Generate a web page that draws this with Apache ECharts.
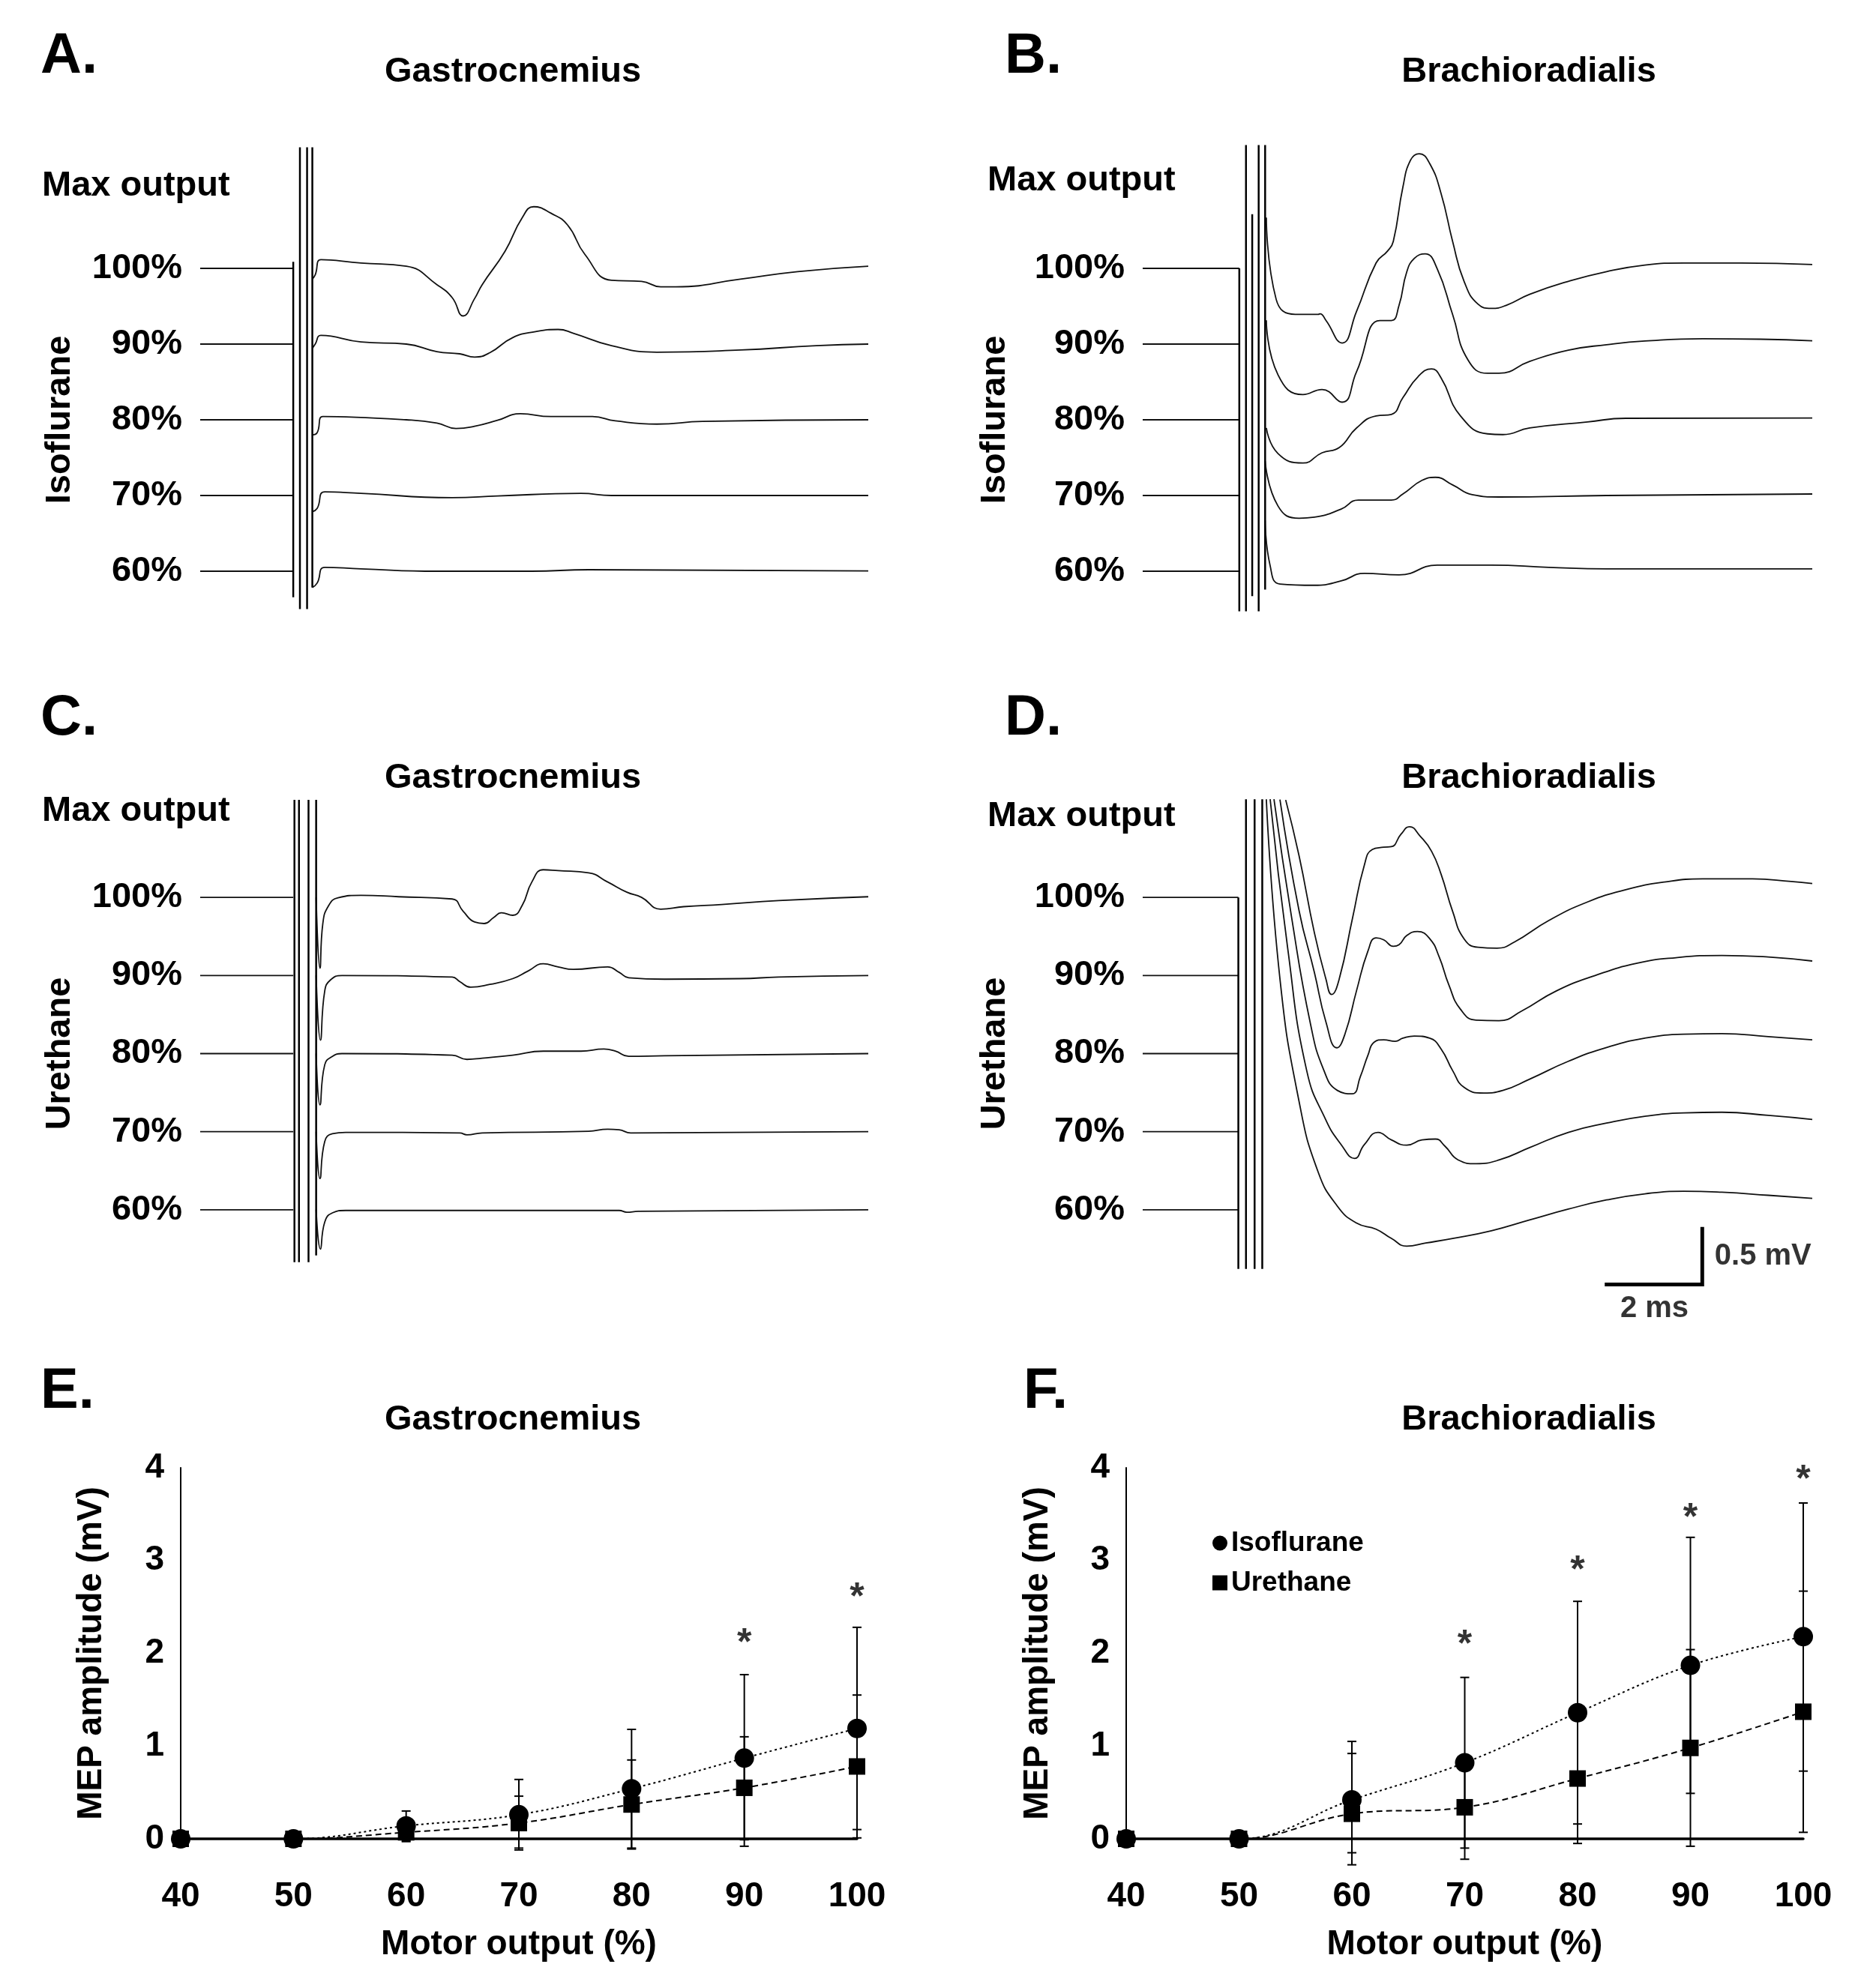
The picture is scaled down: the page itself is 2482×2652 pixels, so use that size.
<!DOCTYPE html>
<html>
<head>
<meta charset="utf-8">
<script src="https://cdn.jsdelivr.net/npm/echarts@6/dist/echarts.min.js"></script>
<style>html,body{margin:0;padding:0;background:#fff}#chart{width:2482px;height:2652px}</style>
</head>
<body>
<div id="chart"></div>
<script>
// ---------- Trace panels (time in ms, amplitude in mV relative to each trace baseline) ----------
const levelLabels = ['60%', '70%', '80%', '90%', '100%'];
const traceSpacing = 0.7; // mV between stacked baselines

// Panel A: Isoflurane, Gastrocnemius
const traceA60 = [[2.35,-0.15],[2.45,-0.11],[2.61,0.036],[3.37,0.022],[4.96,0.0],[6.95,0.0],[8.14,0.014],[14.0,0.003]];
const traceA70 = [[2.35,-0.15],[2.45,-0.12],[2.61,0.034],[3.37,0.02],[5.28,-0.02],[6.23,-0.005],[7.98,0.02],[8.62,0.0],[14.0,0.0]];
const traceA80 = [[2.35,-0.14],[2.45,-0.12],[2.57,0.03],[4.32,0.0],[4.96,-0.03],[5.36,-0.08],[5.75,-0.06],[6.23,-0.005],[6.71,0.056],[7.35,0.03],[8.22,0.03],[8.70,-0.01],[9.57,-0.04],[10.53,-0.015],[14.0,0.0]];
const traceA90 = [[2.35,-0.04],[2.41,0.0],[2.53,0.08],[3.37,0.02],[4.32,0.0],[4.96,-0.07],[5.44,-0.09],[5.75,-0.12],[6.07,-0.08],[6.55,0.06],[7.03,0.115],[7.50,0.135],[7.82,0.10],[8.62,-0.015],[9.57,-0.075],[11.32,-0.055],[12.91,-0.015],[14.0,0.0]];
const traceA100 = [[2.35,-0.10],[2.41,-0.06],[2.53,0.08],[3.37,0.05],[4.32,0.02],[4.96,-0.15],[5.28,-0.27],[5.51,-0.44],[5.75,-0.28],[5.91,-0.15],[6.39,0.16],[6.75,0.47],[6.99,0.57],[7.35,0.51],[7.70,0.40],[8.06,0.13],[8.62,-0.11],[9.25,-0.12],[9.65,-0.17],[9.97,-0.17],[11.32,-0.10],[12.52,-0.03],[14.0,0.02]];
const artifactA = [[1.95,2.86,-0.24],[2.09,3.92,-0.35],[2.24,3.92,-0.35],[2.35,3.92,-0.15]]; // [t, top, bottom] absolute mV

// Panel B: Isoflurane, Brachioradialis
const traceB60 = [[2.56,0.47],[2.665,0.05],[2.87,-0.118],[3.59,-0.13],[4.15,-0.09],[4.635,-0.02],[5.36,-0.034],[6.16,0.056],[7.29,0.056],[8.49,0.036],[9.70,0.022],[14.0,0.022]];
const traceB70 = [[2.56,0.32],[2.83,-0.098],[3.27,-0.21],[3.59,-0.20],[4.15,-0.126],[4.51,-0.042],[5.20,-0.042],[5.44,0.014],[5.84,0.14],[6.12,0.168],[6.48,0.098],[6.89,0.008],[7.45,-0.014],[9.70,0.0],[14.0,0.014]];
const traceB80 = [[2.585,-0.076],[2.83,-0.313],[3.35,-0.40],[3.75,-0.305],[4.11,-0.257],[4.47,-0.076],[4.88,0.036],[5.20,0.05],[5.44,0.204],[5.76,0.40],[6.04,0.47],[6.24,0.386],[6.645,0.036],[7.21,-0.13],[7.53,-0.137],[8.09,-0.076],[9.30,-0.02],[10.10,0.014],[14.0,0.017]];
const traceB90 = [[2.585,0.22],[2.83,-0.285],[3.35,-0.467],[3.75,-0.42],[4.17,-0.537],[4.47,-0.257],[4.96,0.218],[5.20,0.218],[5.36,0.358],[5.52,0.666],[5.68,0.792],[5.905,0.834],[6.16,0.694],[6.48,0.274],[6.80,-0.146],[7.21,-0.27],[7.45,-0.27],[8.09,-0.16],[8.90,-0.056],[9.70,-0.006],[10.50,0.028],[11.71,0.05],[12.92,0.045],[14.0,0.03]];
const traceB100 = [[2.585,0.47],[2.79,-0.285],[3.19,-0.425],[3.67,-0.425],[3.71,-0.42],[3.83,-0.48],[4.17,-0.69],[4.47,-0.40],[4.88,0.05],[5.12,0.16],[5.24,0.25],[5.44,0.75],[5.60,1.0],[5.78,1.06],[6.00,0.97],[6.24,0.69],[6.48,0.25],[6.72,-0.12],[7.01,-0.33],[7.29,-0.37],[7.61,-0.34],[8.09,-0.24],[8.90,-0.12],[9.70,-0.03],[10.50,0.03],[11.31,0.05],[12.51,0.05],[14.0,0.036]];
const artifactB = [[2.02,2.80,-0.37],[2.16,3.94,-0.37],[2.29,3.30,-0.23],[2.425,3.94,-0.37],[2.56,3.94,-0.17]];

// Panel C: Urethane, Gastrocnemius
const traceC60 = [[2.43,0.0],[2.52,-0.353],[2.61,-0.11],[2.77,-0.028],[3.05,-0.006],[8.78,-0.006],[8.94,-0.022],[9.18,-0.014],[14.0,0.0]];
const traceC70 = [[2.43,0.0],[2.51,-0.42],[2.61,-0.088],[2.77,-0.019],[3.05,-0.006],[5.44,-0.011],[5.59,-0.028],[5.91,-0.011],[8.14,0.003],[8.54,0.022],[8.78,0.017],[9.02,-0.011],[14.0,0.0]];
const traceC80 = [[2.43,0.0],[2.51,-0.46],[2.61,-0.10],[2.77,-0.025],[2.97,0.0],[5.28,-0.014],[5.59,-0.052],[5.91,-0.041],[6.55,-0.014],[7.19,0.022],[7.98,0.022],[8.46,0.041],[8.70,0.022],[8.98,-0.025],[9.73,-0.019],[14.0,0.0]];
const traceC90 = [[2.43,0.0],[2.52,-0.58],[2.61,-0.138],[2.73,-0.04],[2.97,0.0],[5.28,-0.014],[5.44,-0.055],[5.67,-0.105],[6.07,-0.08],[6.55,-0.028],[6.87,0.04],[7.19,0.105],[7.50,0.077],[7.82,0.055],[8.54,0.077],[8.78,0.028],[8.98,-0.02],[9.73,-0.033],[11.32,-0.028],[12.12,-0.014],[14.0,0.0]];
const traceC100 = [[2.43,0.0],[2.51,-0.634],[2.57,-0.234],[2.69,-0.075],[2.89,-0.003],[3.37,0.019],[4.16,0.006],[5.28,-0.014],[5.51,-0.124],[5.75,-0.22],[5.95,-0.234],[6.15,-0.18],[6.31,-0.138],[6.55,-0.16],[6.75,-0.069],[6.95,0.138],[7.19,0.248],[7.50,0.24],[8.14,0.22],[8.54,0.138],[8.94,0.047],[9.25,0.0],[9.65,-0.105],[10.13,-0.083],[10.93,-0.063],[12.12,-0.028],[14.0,0.006]];
const artifactC = [[1.975,3.675,-0.47],[2.07,3.675,-0.47],[2.27,3.675,-0.47],[2.43,3.675,-0.41]];

// Panel D: Urethane, Brachioradialis
const traceD60 = [[2.585,3.68],[2.87,2.07],[3.27,0.97],[3.67,0.337],[4.07,0.033],[4.47,-0.119],[4.88,-0.174],[5.20,-0.257],[5.52,-0.326],[5.92,-0.298],[6.48,-0.257],[7.29,-0.188],[8.09,-0.091],[8.90,0.006],[9.70,0.088],[10.50,0.143],[11.31,0.166],[12.11,0.157],[13.08,0.13],[14.0,0.102]];
const traceD70 = [[2.665,2.98],[3.03,1.65],[3.43,0.546],[3.83,0.105],[4.15,-0.116],[4.43,-0.24],[4.635,-0.116],[4.92,-0.006],[5.20,-0.074],[5.52,-0.121],[5.84,-0.074],[6.12,-0.066],[6.32,-0.13],[6.60,-0.254],[6.97,-0.287],[7.45,-0.254],[8.09,-0.143],[8.90,-0.006],[9.70,0.077],[10.50,0.138],[11.31,0.168],[12.11,0.174],[13.08,0.146],[14.0,0.11]];
const traceD80 = [[2.745,2.28],[3.11,1.23],[3.51,0.262],[3.79,-0.152],[4.07,-0.33],[4.38,-0.36],[4.55,-0.207],[4.71,-0.014],[4.84,0.102],[5.04,0.124],[5.28,0.11],[5.44,0.138],[5.68,0.157],[6.00,0.138],[6.24,0.041],[6.48,-0.152],[6.72,-0.303],[7.13,-0.353],[7.53,-0.33],[8.09,-0.229],[8.90,-0.069],[9.70,0.055],[10.50,0.138],[11.31,0.174],[12.11,0.179],[13.08,0.152],[14.0,0.124]];
const traceD90 = [[2.87,1.578],[3.27,0.58],[3.59,0.028],[3.83,-0.414],[4.06,-0.648],[4.23,-0.524],[4.47,-0.138],[4.71,0.22],[4.88,0.337],[5.04,0.32],[5.24,0.262],[5.36,0.276],[5.52,0.358],[5.745,0.394],[6.00,0.331],[6.20,0.166],[6.40,-0.083],[6.645,-0.303],[6.97,-0.40],[7.45,-0.405],[7.93,-0.317],[8.65,-0.138],[9.46,0.0],[10.34,0.11],[11.15,0.16],[12.11,0.18],[13.08,0.166],[14.0,0.13]];
const traceD100 = [[2.99,0.874],[3.27,0.372],[3.59,-0.317],[3.83,-0.73],[3.95,-0.87],[4.11,-0.73],[4.39,-0.18],[4.635,0.29],[4.80,0.43],[5.04,0.45],[5.20,0.455],[5.40,0.566],[5.58,0.634],[5.80,0.55],[6.04,0.414],[6.24,0.207],[6.48,-0.124],[6.72,-0.372],[7.01,-0.447],[7.41,-0.455],[7.77,-0.40],[8.49,-0.207],[9.30,-0.041],[10.10,0.069],[10.91,0.138],[11.71,0.166],[12.75,0.166],[13.56,0.143],[14.0,0.125]];
const artifactD = [[2.0,2.8,-0.53],[2.16,3.68,-0.53],[2.34,3.68,-0.53],[2.5,3.68,-0.53]];

// Scale bar (2 ms, 0.5 mV) in panel D units
const scaleBar = [[9.7,-0.67],[11.7,-0.67],[11.7,-0.17]];

// ---------- MEP amplitude panels ----------
const motorOutput = [40, 50, 60, 70, 80, 90, 100];
const gastroIso = [0, 0, 0.14, 0.26, 0.54, 0.87, 1.19];
const gastroUre = [0, 0, 0.07, 0.17, 0.37, 0.55, 0.78];
const brachioIso = [0, 0, 0.42, 0.82, 1.36, 1.87, 2.18];
const brachioUre = [0, 0, 0.27, 0.34, 0.65, 0.98, 1.37];

const errX = [60, 70, 80, 90, 100];
const gastroIsoLow  = [-0.02, -0.12, -0.11, -0.08, 0.10];
const gastroIsoHigh = [0.30, 0.64, 1.18, 1.77, 2.28];
const gastroUreLow  = [-0.03, -0.10, -0.10, -0.01, 0.01];
const gastroUreHigh = [0.18, 0.46, 0.85, 1.10, 1.55];
const brachioIsoLow  = [-0.15, -0.10, 0.16, 0.49, 0.73];
const brachioIsoHigh = [1.05, 1.74, 2.56, 3.25, 3.62];
const brachioUreLow  = [-0.28, -0.22, -0.05, -0.08, 0.07];
const brachioUreHigh = [0.92, 0.90, 1.35, 2.04, 2.67];

const gastroStarX = [90, 100];
const gastroStarY = [2.18, 2.67];
const brachioStarX = [70, 80, 90, 100];
const brachioStarY = [2.16, 2.96, 3.53, 3.94];

// ---------- Build option ----------
const FONT = "'Liberation Sans', Arial, Helvetica, sans-serif";
const chart = echarts.init(document.getElementById('chart'), null, {renderer: 'canvas'});

const grids = [
  {left: 267, top: 257, width: 891, height: 606},
  {left: 1524, top: 257, width: 893, height: 606},
  {left: 267, top: 1093, width: 891, height: 625},
  {left: 1524, top: 1093, width: 893, height: 625},
  {left: 241, top: 1958, width: 902, height: 495},
  {left: 1502, top: 1958, width: 903, height: 495}
].map(g => Object.assign({containLabel: false, outerBoundsMode: 'none'}, g));

const boldText = (size) => ({fontFamily: FONT, fontWeight: 'bold', fontSize: size, color: '#000'});

const xAxes = [];
const yAxes = [];
const traceNames = ['Isoflurane', 'Isoflurane', 'Urethane', 'Urethane'];
const traceNameGaps = [163, 173, 163, 173];
for (let g = 0; g < 4; g++) {
  xAxes.push({gridIndex: g, type: 'value', min: 0, max: 14, show: false});
  yAxes.push({
    gridIndex: g, type: 'value', min: -0.7, max: 3.5, interval: traceSpacing,
    axisLine: {show: false}, axisTick: {show: false}, splitLine: {show: false},
    axisLabel: {
      margin: 24, ...boldText(47),
      formatter: v => { const i = Math.round(v / traceSpacing); return levelLabels[i] || ''; }
    },
    name: traceNames[g], nameLocation: 'middle', nameRotate: 90, nameGap: traceNameGaps[g],
    nameTextStyle: boldText(47)
  });
}
[4, 5].forEach((g, i) => {
  xAxes.push({
    gridIndex: g, type: 'value', min: 40, max: 100, interval: 10,
    axisLine: {show: true, onZero: false, lineStyle: {color: '#000', width: 3.5}},
    axisTick: {show: false}, splitLine: {show: false},
    axisLabel: {margin: 54, ...boldText(46)},
    name: 'Motor output (%)', nameLocation: 'middle', nameGap: 118, nameTextStyle: boldText(46)
  });
  yAxes.push({
    gridIndex: g, type: 'value', min: 0, max: 4, interval: 1,
    axisLine: {show: true, lineStyle: {color: '#000', width: 2}},
    axisTick: {show: false}, splitLine: {show: false},
    axisLabel: {margin: 22, ...boldText(46)},
    name: 'MEP amplitude (mV)', nameLocation: 'middle', nameRotate: 90, nameGap: i === 0 ? 96 : 95,
    nameTextStyle: boldText(46)
  });
});

const series = [];
const tracePanels = [
  {grid: 0, traces: [traceA60, traceA70, traceA80, traceA90, traceA100], stubEnd: 1.95, art: artifactA},
  {grid: 1, traces: [traceB60, traceB70, traceB80, traceB90, traceB100], stubEnd: 2.02, art: artifactB},
  {grid: 2, traces: [traceC60, traceC70, traceC80, traceC90, traceC100], stubEnd: 1.95, art: artifactC},
  {grid: 3, traces: [traceD60, traceD70, traceD80, traceD90, traceD100], stubEnd: 2.0, art: artifactD}
];
tracePanels.forEach(p => {
  p.traces.forEach((tr, k) => {
    const off = k * traceSpacing;
    const data = [[0, off], [p.stubEnd, off], [p.stubEnd, '-']].concat(tr.map(pt => [pt[0], pt[1] + off]));
    series.push({
      type: 'line', name: 'trace', xAxisIndex: p.grid, yAxisIndex: p.grid, data,
      smooth: 0.5, symbol: 'none', showSymbol: false, clip: false,
      connectNulls: false, silent: true, lineStyle: {color: '#111', width: 1.8}
    });
  });
  const adata = [];
  p.art.forEach(a => { adata.push([a[0], a[1]], [a[0], a[2]], [a[0], '-']); });
  series.push({
    type: 'line', name: 'artifact', xAxisIndex: p.grid, yAxisIndex: p.grid, data: adata,
    symbol: 'none', showSymbol: false, clip: false, connectNulls: false, silent: true,
    lineStyle: {color: '#000', width: 2.5}
  });
});

// scale bar
series.push({
  type: 'line', name: 'scale', xAxisIndex: 3, yAxisIndex: 3, data: scaleBar,
  symbol: 'none', showSymbol: false, clip: false, silent: true,
  lineStyle: {color: '#000', width: 5, cap: 'square', join: 'miter'}
});
series.push({
  type: 'scatter', name: 'scaleLabels', xAxisIndex: 3, yAxisIndex: 3, silent: true, clip: false,
  symbolSize: 1, itemStyle: {color: 'rgba(0,0,0,0)'},
  data: [
    {value: [scaleBar[1][0], (scaleBar[1][1] + scaleBar[2][1]) / 2], label: {show: true, position: 'right', distance: 16, formatter: '0.5 mV', ...boldText(40)}},
    {value: [(scaleBar[0][0] + scaleBar[1][0]) / 2, scaleBar[0][1]], label: {show: true, position: 'bottom', distance: 12, formatter: '2 ms', ...boldText(40)}}
  ]
});

// MEP panels
function errSeries(g, lows, highs) {
  return {
    type: 'custom', xAxisIndex: g, yAxisIndex: g, silent: true, clip: false, z: 1,
    data: errX.map((x, i) => [x, lows[i], highs[i]]),
    encode: {x: 0, y: [1, 2]},
    renderItem: (params, api) => {
      const x = api.value(0);
      const pLo = api.coord([x, api.value(1)]);
      const pHi = api.coord([x, api.value(2)]);
      const w = 6;
      const st = {stroke: '#000', lineWidth: 2};
      return {type: 'group', children: [
        {type: 'line', shape: {x1: pLo[0], y1: pLo[1], x2: pHi[0], y2: pHi[1]}, style: st},
        {type: 'line', shape: {x1: pLo[0] - w, y1: pLo[1], x2: pLo[0] + w, y2: pLo[1]}, style: st},
        {type: 'line', shape: {x1: pHi[0] - w, y1: pHi[1], x2: pHi[0] + w, y2: pHi[1]}, style: st}
      ]};
    }
  };
}
function mepLine(g, name, vals, symbol, size, dash) {
  return {
    type: 'line', name, xAxisIndex: g, yAxisIndex: g, z: 3,
    data: motorOutput.map((x, i) => [x, vals[i]]),
    smooth: 0.4, symbol, symbolSize: size, showSymbol: true, clip: false,
    itemStyle: {color: '#000', borderWidth: 0},
    lineStyle: {color: '#000', width: 2, type: dash}
  };
}
function starSeries(g, xs, ys) {
  return {
    type: 'scatter', xAxisIndex: g, yAxisIndex: g, silent: true, clip: false,
    symbolSize: 1, itemStyle: {color: 'rgba(0,0,0,0)'},
    data: xs.map((x, i) => [x, ys[i]]),
    label: {show: true, position: 'inside', formatter: '*', offset: [0, 10], ...boldText(50)}
  };
}
series.push(errSeries(4, gastroIsoLow, gastroIsoHigh));
series.push(errSeries(4, gastroUreLow, gastroUreHigh));
series.push(mepLine(4, 'Isoflurane', gastroIso, 'circle', 26, [3, 4]));
series.push(mepLine(4, 'Urethane', gastroUre, 'rect', 22, [8, 5]));
series.push(starSeries(4, gastroStarX, gastroStarY));
series.push(errSeries(5, brachioIsoLow, brachioIsoHigh));
series.push(errSeries(5, brachioUreLow, brachioUreHigh));
series.push(mepLine(5, 'Isoflurane', brachioIso, 'circle', 26, [3, 4]));
series.push(mepLine(5, 'Urethane', brachioUre, 'rect', 22, [8, 5]));
series.push(starSeries(5, brachioStarX, brachioStarY));

const t = (text, left, centerY, size, align) => ({
  text, left, top: centerY - size / 2, padding: 0, textAlign: align || 'left',
  textStyle: Object.assign(boldText(size), {lineHeight: size})
});
const titles = [
  t('A.', 54, 76, 76), t('B.', 1340, 76, 76), t('C.', 54, 959, 76),
  t('D.', 1340, 959, 76), t('E.', 54, 1857, 76), t('F.', 1365, 1857, 76),
  t('Gastrocnemius', 684, 96, 47, 'center'), t('Brachioradialis', 2039, 96, 47, 'center'),
  t('Gastrocnemius', 684, 1038, 47, 'center'), t('Brachioradialis', 2039, 1038, 47, 'center'),
  t('Gastrocnemius', 684, 1894, 47, 'center'), t('Brachioradialis', 2039, 1894, 47, 'center'),
  t('Max output', 56, 248, 47), t('Max output', 1317, 241, 47),
  t('Max output', 56, 1082, 47), t('Max output', 1317, 1089, 47)
];

chart.setOption({
  backgroundColor: '#fff',
  animation: false,
  textStyle: {fontFamily: FONT},
  title: titles,
  grid: grids,
  xAxis: xAxes,
  yAxis: yAxes,
  legend: [{
    left: 1612, top: 2035, orient: 'vertical', itemGap: 16, itemWidth: 20, itemHeight: 20,
    selectedMode: false,
    data: [{name: 'Isoflurane', icon: 'circle'}, {name: 'Urethane', icon: 'rect'}],
    textStyle: boldText(37)
  }],
  series
});
</script>
</body>
</html>
